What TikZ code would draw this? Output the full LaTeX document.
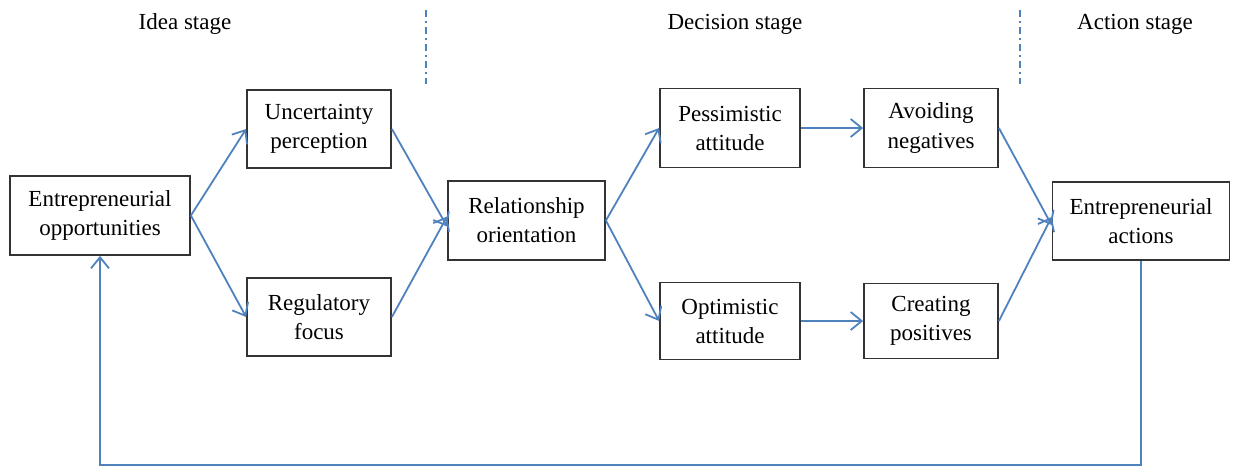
\documentclass[tikz,border=0pt]{standalone}
\usepackage{fontspec}
\setmainfont{Liberation Serif}
\usetikzlibrary{arrows.meta}
\definecolor{lineblue}{RGB}{79,129,189}
\begin{document}
\begin{tikzpicture}[x=1pt,y=-1pt,
  box/.style={draw=black!80,line width=1.8pt,fill=white,align=center,inner sep=0pt,
    font=\fontsize{23}{29}\selectfont},
  lbl/.style={font=\fontsize{23}{26}\selectfont,inner sep=0pt},
  conn/.style={draw=lineblue,line width=1.8pt,-{Straight Barb[length=11pt,width=18pt,line width=1.8pt]}},
  sep/.style={draw=lineblue,line width=1.3pt,dash pattern=on 7pt off 4pt on 2pt off 4pt}]
\useasboundingbox (0,0) rectangle (1233,466);
% stage labels
\node[lbl] (idea) at (185,24) {Idea stage};
\node[lbl] (dec) at (735,24) {Decision stage};
\node[lbl] (act) at (1135,24) {Action stage};
\coordinate (s1a) at (426,10); \coordinate (s1b) at (426,84);
\coordinate (s2a) at (1020,10); \coordinate (s2b) at (1020,84);
\draw[sep] (s1a) -- (s1b);
\draw[sep] (s2a) -- (s2b);
% boxes
\node[box,minimum width=180pt,minimum height=79pt] (opp) at (100,215.5) {Entrepreneurial\\opportunities};
\node[box,minimum width=144pt,minimum height=78pt] (unc) at (319,129) {Uncertainty\\perception};
\node[box,minimum width=144pt,minimum height=78pt] (reg) at (319,317) {Regulatory\\focus};
\node[box,minimum width=157pt,minimum height=79pt] (rel) at (526.5,220.5) {Relationship\\orientation};
\node[box,minimum width=140pt,minimum height=79pt] (pes) at (730,128) {Pessimistic\\attitude};
\node[box,minimum width=140pt,minimum height=77pt] (opt) at (730,321) {Optimistic\\attitude};
\node[box,minimum width=134pt,minimum height=79pt] (avo) at (931,128) {Avoiding\\negatives};
\node[box,minimum width=134pt,minimum height=75pt] (cre) at (931,321) {Creating\\positives};
\node[box,minimum width=177pt,minimum height=78pt] (eact) at (1141,221) {Entrepreneurial\\actions};
% connectors
\draw[conn] (opp.east) -- (unc.west);
\draw[conn] (opp.east) -- (reg.west);
\draw[conn] (unc.east) -- ([yshift=-6pt]rel.west);
\draw[conn] (reg.east) -- ([yshift=4pt]rel.west);
\draw[conn] (rel.east) -- (pes.west);
\draw[conn] (rel.east) -- (opt.west);
\draw[conn] (pes.east) -- (avo.west);
\draw[conn] (opt.east) -- (cre.west);
\draw[conn] (avo.east) -- ([yshift=-4pt]eact.west);
\draw[conn] (cre.east) -- ([yshift=4pt]eact.west);
\coordinate (fb1) at (1141,465);
\coordinate (fb2) at (100,465);
\draw[conn] (eact.south) -- (fb1) -- (fb2) -- (opp.south);
\end{tikzpicture}
\end{document}
